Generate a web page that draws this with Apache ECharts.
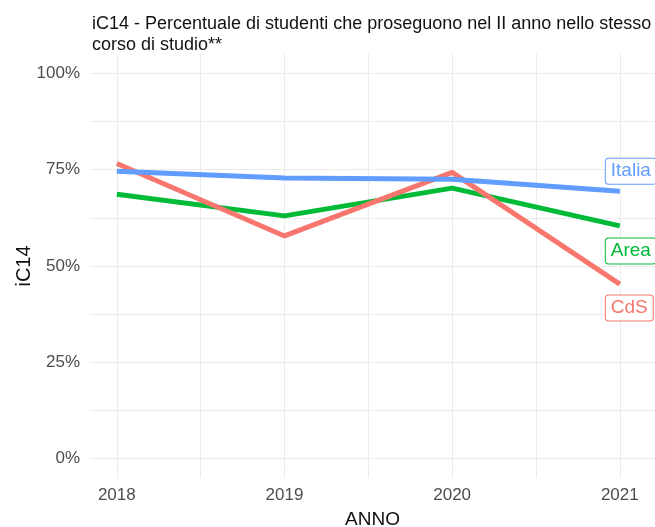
<!DOCTYPE html>
<html lang="it">
<head>
<meta charset="UTF-8">
<title>iC14</title>
<script src="https://cdn.jsdelivr.net/npm/echarts@6/dist/echarts.min.js"></script>
<style>
  html, body { margin: 0; padding: 0; background: #fff; }
  #chart { width: 655px; height: 527px; }
</style>
</head>
<body>
<div id="chart"></div>
<script>
// dati
var anni = [2018, 2019, 2020, 2021];
var cds = [0.766, 0.578, 0.743, 0.453];
var area = [0.686, 0.630, 0.702, 0.604];
var italia = [0.746, 0.728, 0.725, 0.694];

var yTicks = [0, 0.25, 0.5, 0.75, 1];
var yGrid = [0, 0.125, 0.25, 0.375, 0.5, 0.625, 0.75, 0.875, 1];
var xGrid = [2018, 2018.5, 2019, 2019.5, 2020, 2020.5, 2021, 2021.5];

var FONT = "'Liberation Sans', Arial, sans-serif";

function coppie(vals) {
    return anni.map(function (a, i) { return [a, vals[i]]; });
}

function serie(nome, vals, colore, dy) {
    return {
        name: nome,
        type: 'line',
        data: coppie(vals),
        symbol: 'none',
        lineStyle: { color: colore, width: 5 },
        itemStyle: { color: colore },
        endLabel: {
            show: true,
            formatter: nome,
            color: colore,
            fontFamily: FONT,
            fontSize: 19,
            backgroundColor: '#fff',
            borderColor: colore,
            borderWidth: 1,
            borderRadius: 3,
            padding: [3, 5],
            offset: [-22, dy]
        }
    };
}

var chart = echarts.init(document.getElementById('chart'));
chart.setOption({
    animation: false,
    title: {
        text: 'iC14 - Percentuale di studenti che proseguono nel II anno nello stesso\ncorso di studio**',
        left: 87,
        top: 9,
        textStyle: { fontFamily: FONT, fontSize: 18, fontWeight: 'normal', color: '#111', lineHeight: 21 }
    },
    grid: { left: 90, right: 0, top: 54, bottom: 49, outerBoundsMode: 'none', containLabel: false },
    xAxis: {
        type: 'value',
        min: 2017.84,
        max: 2021.21,
        name: 'ANNO',
        nameLocation: 'middle',
        nameGap: 32,
        nameMoveOverlap: false,
        nameTextStyle: { fontFamily: FONT, fontSize: 19, color: '#111' },
        axisLine: { show: false },
        axisTick: { show: false, customValues: xGrid },
        axisLabel: {
            customValues: anni,
            fontFamily: FONT, fontSize: 17, color: '#4D4D4D', margin: 9,
            formatter: function (v) { return String(v); }
        },
        splitLine: { show: true, lineStyle: { color: '#EBEBEB', width: 1 } }
    },
    yAxis: {
        type: 'value',
        min: -0.05,
        max: 1.05,
        name: 'iC14',
        nameLocation: 'middle',
        nameGap: 56,
        nameMoveOverlap: false,
        nameTextStyle: { fontFamily: FONT, fontSize: 20, color: '#111' },
        axisLine: { show: false },
        axisTick: { show: false, customValues: yGrid },
        axisLabel: {
            customValues: yTicks,
            fontFamily: FONT, fontSize: 17, color: '#4D4D4D', margin: 10,
            formatter: function (v) { return Math.round(v * 100) + '%'; }
        },
        splitLine: { show: true, lineStyle: { color: '#EBEBEB', width: 1 } }
    },
    series: [
        serie('Area', area, '#00BA38', 25),
        serie('CdS', cds, '#F8766D', 24),
        serie('Italia', italia, '#619CFF', -20)
    ]
});
</script>
</body>
</html>
